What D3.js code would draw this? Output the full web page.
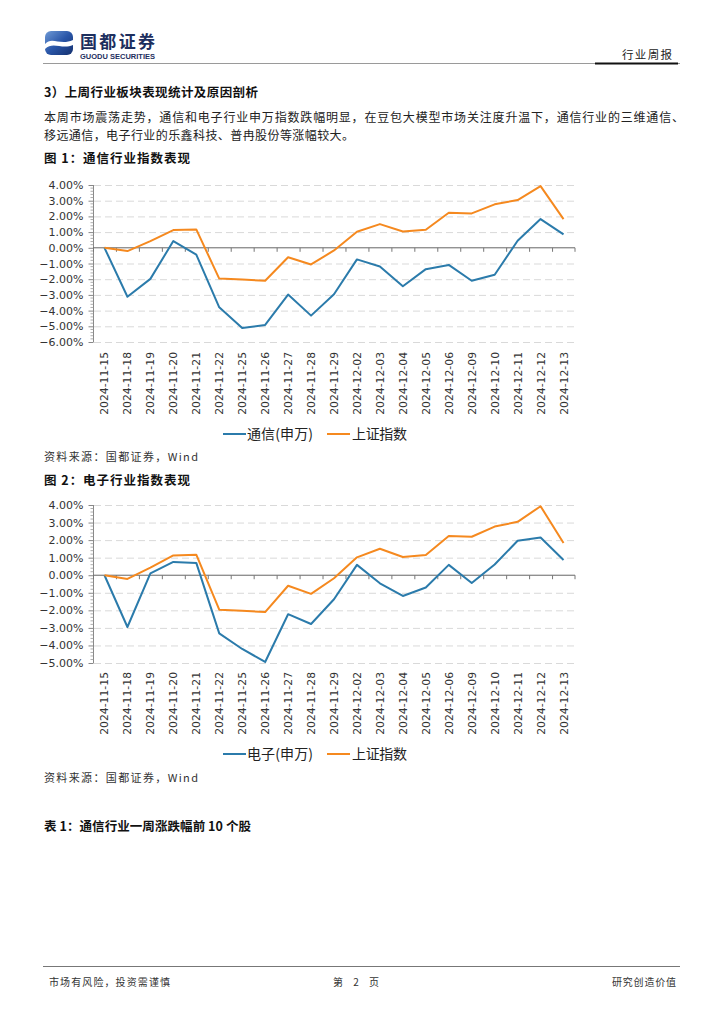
<!DOCTYPE html>
<html><head><meta charset="utf-8">
<script src="https://cdn.jsdelivr.net/npm/d3@7"></script>
<style>
html,body{margin:0;padding:0;background:#fff;}
svg{display:block;}
.cjk{font-family:"Noto Sans CJK SC","Noto Sans",sans-serif;}
</style></head>
<body>
<svg id="page" width="724" height="1024"></svg>
<script>
// ---- data ----
const dates = ['2024-11-15','2024-11-18','2024-11-19','2024-11-20','2024-11-21','2024-11-22','2024-11-25','2024-11-26','2024-11-27','2024-11-28','2024-11-29','2024-12-02','2024-12-03','2024-12-04','2024-12-05','2024-12-06','2024-12-09','2024-12-10','2024-12-11','2024-12-12','2024-12-13'];
const tongxin = [0,-3.12,-1.98,0.43,-0.43,-3.79,-5.11,-4.91,-2.98,-4.32,-2.96,-0.74,-1.19,-2.45,-1.36,-1.09,-2.10,-1.72,0.45,1.83,0.85];
const shangzheng = [0,-0.21,0.43,1.13,1.17,-1.96,-2.02,-2.10,-0.60,-1.06,-0.17,1.02,1.51,1.04,1.15,2.23,2.19,2.77,3.04,3.93,1.83];
const dianzi = [0,-2.95,0.11,0.76,0.70,-3.31,-4.20,-4.94,-2.22,-2.78,-1.37,0.59,-0.46,-1.18,-0.70,0.59,-0.44,0.61,1.96,2.15,0.87];
const yTicks1 = [4,3,2,1,0,-1,-2,-3,-4,-5,-6];
const yTicks2 = [4,3,2,1,0,-1,-2,-3,-4,-5];
const legend1 = ['通信(申万)','上证指数'];
const legend2 = ['电子(申万)','上证指数'];

const BLUE = '#2b7bab', ORANGE = '#f5891f';
const svg = d3.select('#page');

// ---- header ----
const defs = svg.append('defs');
const grad = defs.append('linearGradient').attr('id','lg').attr('x1','0').attr('y1','0').attr('x2','1').attr('y2','1');
grad.append('stop').attr('offset','0').attr('stop-color','#6f9ad6');
grad.append('stop').attr('offset','0.5').attr('stop-color','#2a56a8');
grad.append('stop').attr('offset','1').attr('stop-color','#14306e');
svg.append('rect').attr('x',45).attr('y',31).attr('width',28).attr('height',24).attr('rx',6).attr('fill','url(#lg)');
svg.append('path').attr('d','M45,44 C52,36 60,46 73,40 L73,45 C62,50 53,41 45,49 Z').attr('fill','#fff');
svg.append('text').attr('class','cjk').attr('x',80).attr('y',48).attr('font-size',17).attr('font-weight','bold').attr('fill','#1d2f5e').attr('textLength',75).text('国都证券');
svg.append('text').attr('x',80).attr('y',59).attr('font-family','Liberation Sans, Arial').attr('font-size',6.5).attr('font-weight','bold').attr('fill','#1d2f5e').attr('textLength',75).attr('lengthAdjust','spacingAndGlyphs').text('GUODU SECURITIES');
svg.append('line').attr('x1',43).attr('x2',680).attr('y1',63.5).attr('y2',63.5).attr('stroke','#9a9a9a').attr('stroke-width',1);
svg.append('line').attr('x1',595).attr('x2',678).attr('y1',63.5).attr('y2',63.5).attr('stroke','#111').attr('stroke-width',2);
svg.append('text').attr('class','cjk').attr('x',622).attr('y',59).attr('font-size',11.5).attr('fill','#222').attr('textLength',50).text('行业周报');

// ---- body text ----
function txt(x,y,s,size,bold,len,color){
  const t = svg.append('text').attr('class','cjk').attr('x',x).attr('y',y).attr('font-size',size).attr('fill',color||'#111').text(s);
  if(bold) t.attr('font-weight','bold');
  if(len) t.attr('textLength',len).attr('lengthAdjust','spacing');
  return t;
}
txt(44,97,'3）上周行业板块表现统计及原因剖析',12.5,true,214);
txt(44,122,'本周市场震荡走势，通信和电子行业申万指数跌幅明显，在豆包大模型市场关注度升温下，通信行业的三维通信、',12,false,640,'#222');
txt(44,140,'移远通信，电子行业的乐鑫科技、普冉股份等涨幅较大。',12,false,310,'#222');
txt(44,163,'图 1：通信行业指数表现',12.5,true,146);
txt(44,485,'图 2：电子行业指数表现',12.5,true,146);
txt(44,831,'表 1：通信行业一周涨跌幅前 10 个股',12.5,true,207);
txt(44,461,'资料来源：国都证券，Wind',11,false,154,'#333');
txt(44,782,'资料来源：国都证券，Wind',11,false,154,'#333');

// ---- footer ----
svg.append('line').attr('x1',43).attr('x2',680).attr('y1',966.5).attr('y2',966.5).attr('stroke','#777').attr('stroke-width',1);
txt(49,986,'市场有风险，投资需谨慎',10,false,121,'#333');
txt(333,986,'第 2 页',10,false,46,'#333');
txt(612,986,'研究创造价值',10,false,64,'#333');

// ---- charts ----
function chart(opts){
  const g = svg.append('g');
  const x = d3.scaleBand().domain(dates).range([93,575]);
  const cx = d => x(d) + x.bandwidth()/2;
  const y = d3.scaleLinear().domain(opts.domain).range([opts.bottom, opts.top]);
  // grid
  g.selectAll('.grid').data(opts.ticks.filter(t=>t!==0)).enter().append('line')
    .attr('x1',94).attr('x2',575).attr('y1',d=>y(d)+0.5).attr('y2',d=>y(d)+0.5)
    .attr('stroke','#d9d9d9').attr('stroke-width',1).attr('stroke-dasharray','7,4');
  // y axis
  const yAxis = d3.axisLeft(y).tickValues(opts.ticks).tickSize(5).tickFormat(d=>d3.format('.2f')(d)+'%');
  const ya = g.append('g').attr('transform','translate(93.5,0)').call(yAxis);
  ya.select('.domain').attr('stroke','#888').attr('d',`M0,${opts.top}V${opts.bottom}`);
  ya.selectAll('.tick line').attr('stroke','#888');
  ya.selectAll('.tick text').attr('x',-10).attr('font-family','DejaVu Sans, Verdana, sans-serif').attr('font-size',11).attr('fill','#333');
  // minor ticks
  const minor = d3.range(opts.domain[0], opts.domain[1]+0.001, 0.2).filter(v=>Math.abs(v-Math.round(v))>0.01);
  g.selectAll('.minor').data(minor).enter().append('line')
    .attr('x1',90.5).attr('x2',93.5).attr('y1',d=>y(d)).attr('y2',d=>y(d)).attr('stroke','#999').attr('stroke-width',0.8);
  // zero axis
  const xa = d3.axisBottom(x).tickSize(4).tickFormat('');
  const xg = g.append('g').attr('transform',`translate(0,${y(0)})`).call(xa);
  xg.select('.domain').attr('stroke','#666').attr('d','M93,0H575');
  xg.selectAll('.tick').attr('transform',d=>`translate(${x(d)+0.5},0)`);
  xg.selectAll('.tick line').attr('stroke','#777');
  xg.append('line').attr('x1',575).attr('x2',575).attr('y1',0).attr('y2',4).attr('stroke','#777');
  // x labels
  g.selectAll('.xl').data(dates).enter().append('text')
    .attr('transform',d=>`translate(${cx(d)+4},${opts.labelTop}) rotate(-90)`)
    .attr('text-anchor','end').attr('font-family','DejaVu Sans, Verdana, sans-serif').attr('font-size',10.8).attr('fill','#333').text(d=>d);
  // lines
  const line = d3.line().x((d,i)=>cx(dates[i])).y(d=>y(d));
  g.append('path').datum(opts.s1).attr('d',line).attr('fill','none').attr('stroke',BLUE).attr('stroke-width',2).attr('stroke-linejoin','round');
  g.append('path').datum(opts.s2).attr('d',line).attr('fill','none').attr('stroke',ORANGE).attr('stroke-width',2).attr('stroke-linejoin','round');
  // legend
  const ly = opts.legendY;
  g.append('line').attr('x1',223).attr('x2',246).attr('y1',ly).attr('y2',ly).attr('stroke',BLUE).attr('stroke-width',2);
  g.append('text').attr('class','cjk').attr('x',247).attr('y',ly+5).attr('font-size',14).attr('fill','#222').attr('textLength',66).text(opts.legend[0]);
  g.append('line').attr('x1',327).attr('x2',350).attr('y1',ly).attr('y2',ly).attr('stroke',ORANGE).attr('stroke-width',2);
  g.append('text').attr('class','cjk').attr('x',352).attr('y',ly+5).attr('font-size',14).attr('fill','#222').attr('textLength',55).text(opts.legend[1]);
}
chart({domain:[-6,4], top:185, bottom:342, ticks:yTicks1, s1:tongxin, s2:shangzheng, labelTop:352, legendY:434, legend:legend1});
chart({domain:[-5,4], top:505, bottom:663, ticks:yTicks2, s1:dianzi, s2:shangzheng, labelTop:672, legendY:754, legend:legend2});
</script>
</body></html>
